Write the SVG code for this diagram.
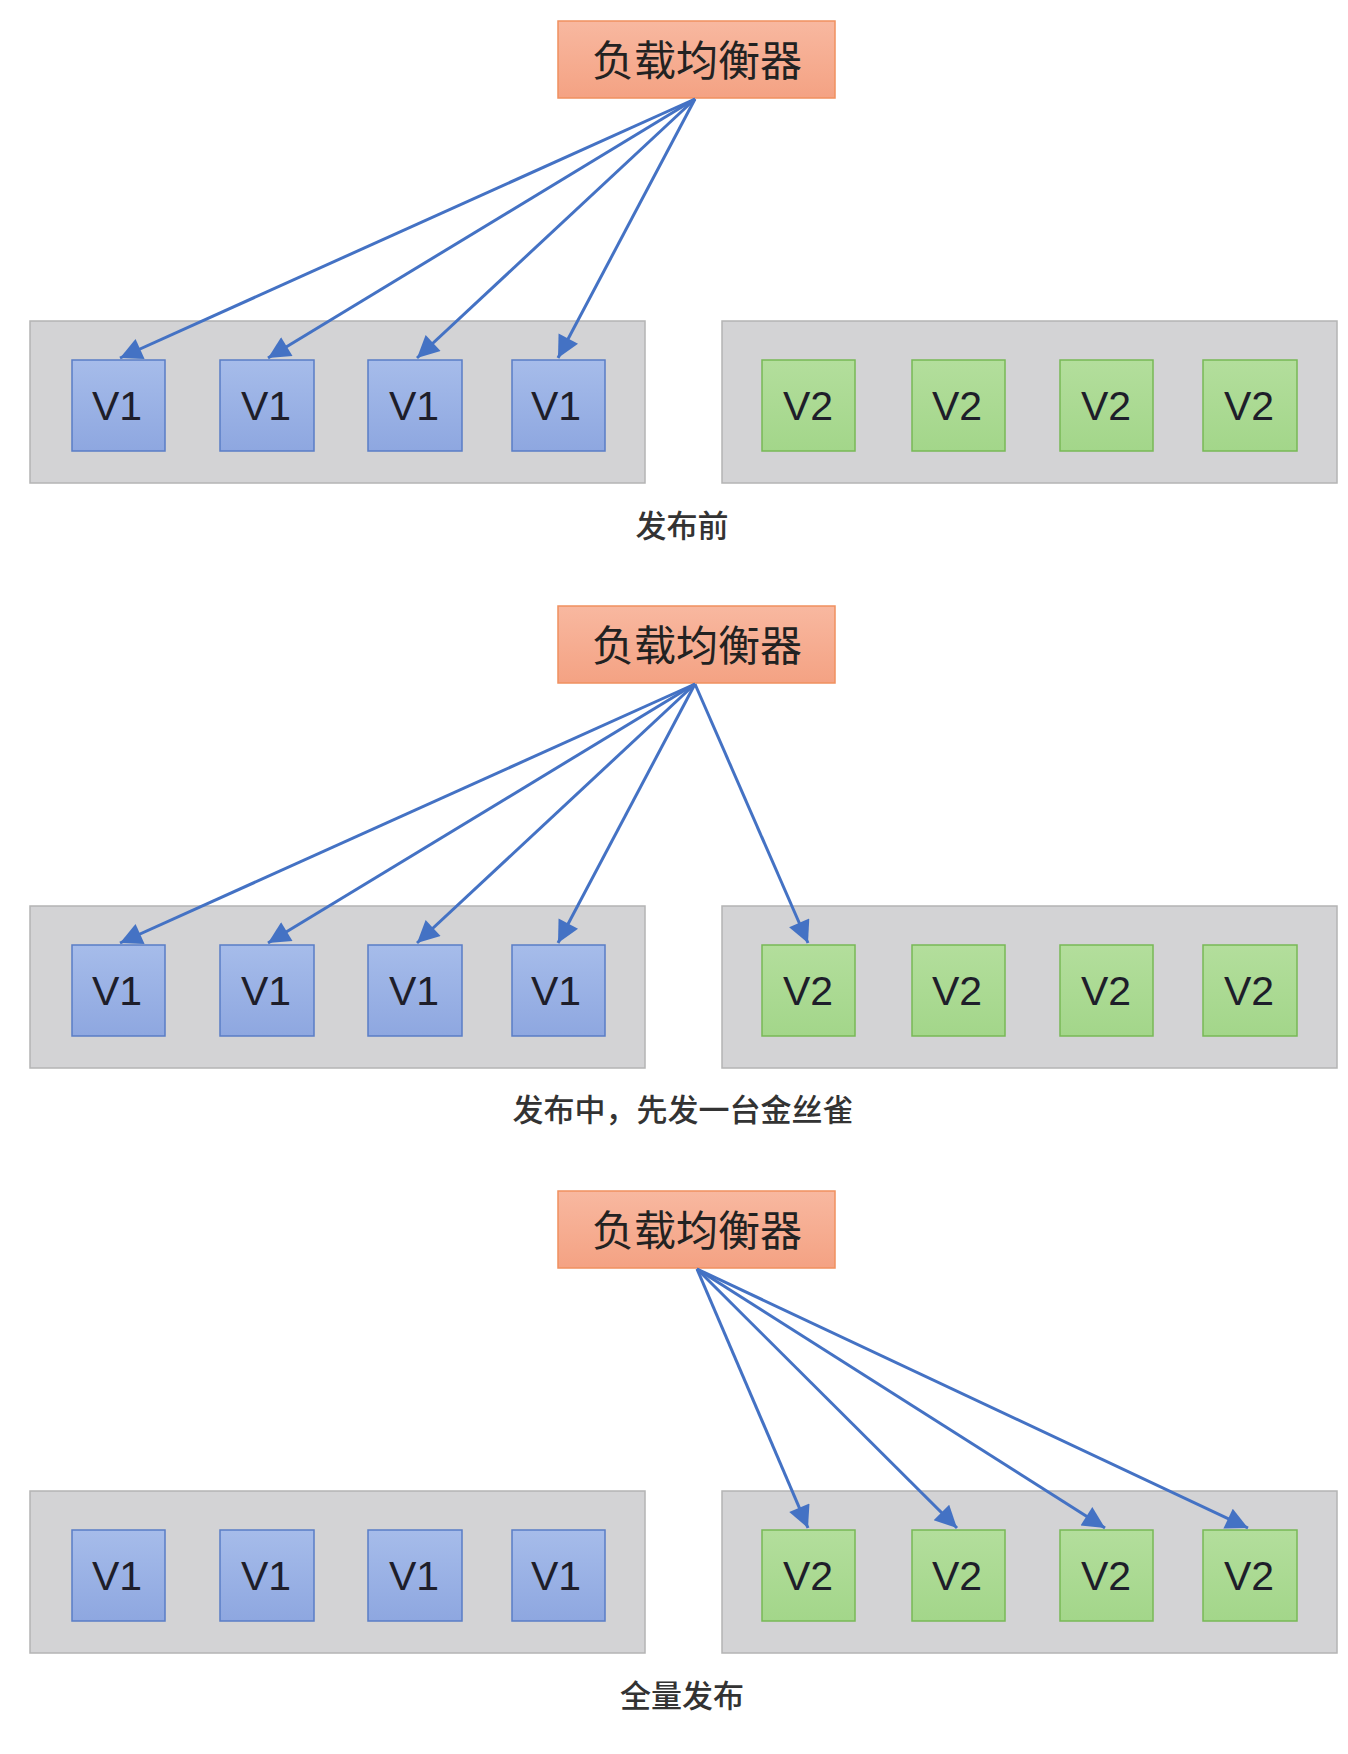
<svg xmlns="http://www.w3.org/2000/svg" width="1348" height="1754" viewBox="0 0 1348 1754">
<defs>
<linearGradient id="gLB" x1="0" y1="0" x2="0" y2="1"><stop offset="0" stop-color="#F8B8A0"/><stop offset="1" stop-color="#F4A283"/></linearGradient>
<linearGradient id="gV1" x1="0" y1="0" x2="0" y2="1"><stop offset="0" stop-color="#A6BCEA"/><stop offset="1" stop-color="#8EA7E0"/></linearGradient>
<linearGradient id="gV2" x1="0" y1="0" x2="0" y2="1"><stop offset="0" stop-color="#B3DE9C"/><stop offset="1" stop-color="#A3D68A"/></linearGradient>
<marker id="arr" viewBox="0 0 10 10" refX="10" refY="5" markerWidth="25" markerHeight="22" markerUnits="userSpaceOnUse" orient="auto"><path d="M0,0 L10,5 L0,10 z" fill="#4472C4"/></marker>
</defs>
<style>
.lb{fill:url(#gLB);stroke:#F0905F;stroke-width:1.5}
.lbt{font-family:"Noto Sans CJK SC","Noto Sans",sans-serif;font-size:42px;fill:#222;text-anchor:middle}
.ct{fill:#D3D3D5;stroke:#B4B4B4;stroke-width:1.5}
.v1{fill:url(#gV1);stroke:#5A7DC6;stroke-width:1.5}
.v2{fill:url(#gV2);stroke:#78B956;stroke-width:1.5}
.vt{font-family:"Liberation Sans",Arial,sans-serif;font-size:41px;fill:#1E1E2A;text-anchor:middle}
.cap{font-family:"Noto Sans CJK SC","Noto Sans",sans-serif;font-size:31px;font-weight:500;fill:#333;text-anchor:middle}
.c line{stroke:#4472C4;stroke-width:3;marker-end:url(#arr)}
</style>
<rect width="1348" height="1754" fill="#fff"/>

<!-- Section 1 -->
<g id="s1-lb"><rect class="lb" x="558" y="21" width="277" height="77"/><text class="lbt" x="697" y="76">负载均衡器</text></g>
<g id="s1-left"><rect class="ct" x="30" y="321" width="615" height="162"/></g>
<g id="s1-right"><rect class="ct" x="722" y="321" width="615" height="162"/></g>
<g id="s1-a1"><rect class="v1" x="72" y="360" width="93" height="91"/><text class="vt" x="117" y="420">V1</text></g>
<g id="s1-a2"><rect class="v1" x="220" y="360" width="94" height="91"/><text class="vt" x="266" y="420">V1</text></g>
<g id="s1-a3"><rect class="v1" x="368" y="360" width="94" height="91"/><text class="vt" x="414" y="420">V1</text></g>
<g id="s1-a4"><rect class="v1" x="512" y="360" width="93" height="91"/><text class="vt" x="556" y="420">V1</text></g>
<g id="s1-b1"><rect class="v2" x="762" y="360" width="93" height="91"/><text class="vt" x="808" y="420">V2</text></g>
<g id="s1-b2"><rect class="v2" x="912" y="360" width="93" height="91"/><text class="vt" x="957" y="420">V2</text></g>
<g id="s1-b3"><rect class="v2" x="1060" y="360" width="93" height="91"/><text class="vt" x="1106" y="420">V2</text></g>
<g id="s1-b4"><rect class="v2" x="1203" y="360" width="94" height="91"/><text class="vt" x="1249" y="420">V2</text></g>
<text id="cap1" class="cap" x="682" y="537">发布前</text>

<!-- Section 2 -->
<g id="s2-lb"><rect class="lb" x="558" y="606" width="277" height="77"/><text class="lbt" x="697" y="661">负载均衡器</text></g>
<g id="s2-left"><rect class="ct" x="30" y="906" width="615" height="162"/></g>
<g id="s2-right"><rect class="ct" x="722" y="906" width="615" height="162"/></g>
<g id="s2-a1"><rect class="v1" x="72" y="945" width="93" height="91"/><text class="vt" x="117" y="1005">V1</text></g>
<g id="s2-a2"><rect class="v1" x="220" y="945" width="94" height="91"/><text class="vt" x="266" y="1005">V1</text></g>
<g id="s2-a3"><rect class="v1" x="368" y="945" width="94" height="91"/><text class="vt" x="414" y="1005">V1</text></g>
<g id="s2-a4"><rect class="v1" x="512" y="945" width="93" height="91"/><text class="vt" x="556" y="1005">V1</text></g>
<g id="s2-b1"><rect class="v2" x="762" y="945" width="93" height="91"/><text class="vt" x="808" y="1005">V2</text></g>
<g id="s2-b2"><rect class="v2" x="912" y="945" width="93" height="91"/><text class="vt" x="957" y="1005">V2</text></g>
<g id="s2-b3"><rect class="v2" x="1060" y="945" width="93" height="91"/><text class="vt" x="1106" y="1005">V2</text></g>
<g id="s2-b4"><rect class="v2" x="1203" y="945" width="94" height="91"/><text class="vt" x="1249" y="1005">V2</text></g>
<text id="cap2" class="cap" x="683" y="1121">发布中，先发一台金丝雀</text>

<!-- Section 3 -->
<g id="s3-lb"><rect class="lb" x="558" y="1191" width="277" height="77"/><text class="lbt" x="697" y="1246">负载均衡器</text></g>
<g id="s3-left"><rect class="ct" x="30" y="1491" width="615" height="162"/></g>
<g id="s3-right"><rect class="ct" x="722" y="1491" width="615" height="162"/></g>
<g id="s3-a1"><rect class="v1" x="72" y="1530" width="93" height="91"/><text class="vt" x="117" y="1590">V1</text></g>
<g id="s3-a2"><rect class="v1" x="220" y="1530" width="94" height="91"/><text class="vt" x="266" y="1590">V1</text></g>
<g id="s3-a3"><rect class="v1" x="368" y="1530" width="94" height="91"/><text class="vt" x="414" y="1590">V1</text></g>
<g id="s3-a4"><rect class="v1" x="512" y="1530" width="93" height="91"/><text class="vt" x="556" y="1590">V1</text></g>
<g id="s3-b1"><rect class="v2" x="762" y="1530" width="93" height="91"/><text class="vt" x="808" y="1590">V2</text></g>
<g id="s3-b2"><rect class="v2" x="912" y="1530" width="93" height="91"/><text class="vt" x="957" y="1590">V2</text></g>
<g id="s3-b3"><rect class="v2" x="1060" y="1530" width="93" height="91"/><text class="vt" x="1106" y="1590">V2</text></g>
<g id="s3-b4"><rect class="v2" x="1203" y="1530" width="94" height="91"/><text class="vt" x="1249" y="1590">V2</text></g>
<text id="cap3" class="cap" x="682" y="1707">全量发布</text>

<g id="connectors" class="c">
<line x1="695" y1="99" x2="120" y2="358"/>
<line x1="695" y1="99" x2="268" y2="358"/>
<line x1="695" y1="99" x2="417" y2="358"/>
<line x1="695" y1="99" x2="558" y2="358"/>
<line x1="695" y1="684" x2="120" y2="943"/>
<line x1="695" y1="684" x2="268" y2="943"/>
<line x1="695" y1="684" x2="417" y2="943"/>
<line x1="695" y1="684" x2="558" y2="943"/>
<line x1="695" y1="684" x2="808" y2="943"/>
<line x1="697" y1="1269" x2="808" y2="1528"/>
<line x1="697" y1="1269" x2="957" y2="1528"/>
<line x1="697" y1="1269" x2="1105" y2="1528"/>
<line x1="697" y1="1269" x2="1248" y2="1528"/>
</g>
</svg>
